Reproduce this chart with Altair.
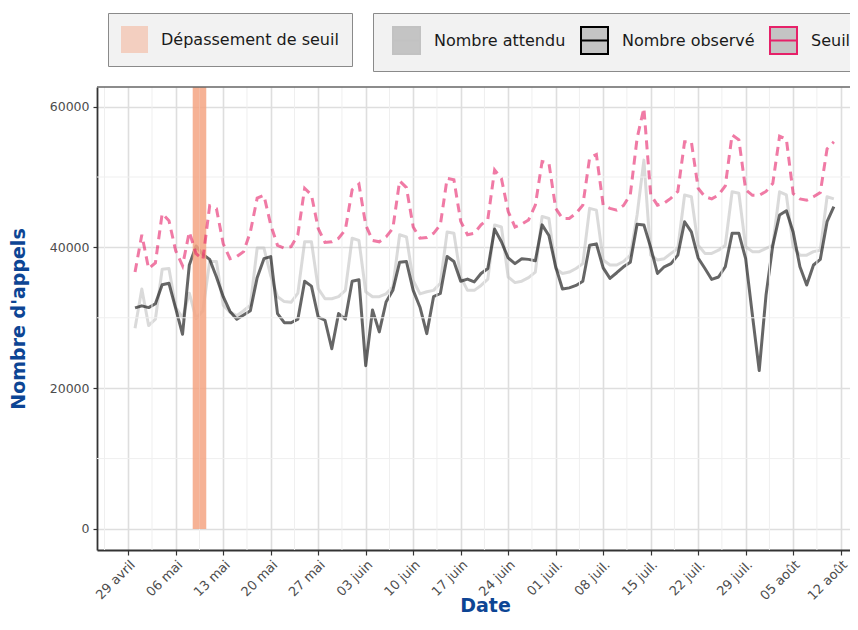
import json
import altair as alt
import pandas as pd

# ---------------- data ----------------
start_date = "2024-04-30"
n_days = 104

observed = [
    31400, 31700, 31450, 32000, 34700, 34900, 31300, 27650, 37500, 40200,
    39000, 38300, 35800, 33000, 30900, 29800, 30400, 31000, 35700, 38400,
    38700, 30600, 29300, 29300, 29800, 35200, 34500, 30100, 29650, 25600,
    30600, 29800, 35200, 35400, 23200, 31100, 28000, 32250, 33900, 37900,
    38000, 33900, 31500, 27750, 33000, 33450, 38700, 38000, 35200, 35500,
    35100, 36300, 37000, 42600, 40800, 38500, 37700, 38400, 38300, 38100,
    43200, 41700, 37250, 34100, 34250, 34600, 35200, 40300, 40500, 37100,
    35600, 36400, 37250, 37900, 43300, 43200, 40000, 36300, 37250, 37700,
    38900, 43650, 42200, 38500, 37000, 35450, 35800, 37250, 42000, 42000,
    38400, 30350, 22500, 33200, 40300, 44600, 45200, 42200, 37250, 34650,
    37500, 38300, 43650, 45800,
]
expected = [
    28500, 34100, 28900, 29800, 36900, 37000, 31500, 30000, 33500, 29900,
    31000, 38000, 38000, 31800, 30800, 30300, 31000, 31800, 39900, 39900,
    36000, 33000, 32300, 32200, 33500, 40800, 40800, 34150, 32700, 32700,
    33000, 33900, 41300, 41000, 33700, 33000, 33000, 33400, 34400, 41800,
    41500, 35300, 33400, 33700, 33900, 34900, 42200, 42000, 35800, 33900,
    33900, 34600, 35500, 43200, 42900, 35800, 35000, 35200, 35700, 36500,
    44400, 44100, 37000, 36300, 36500, 37000, 37700, 45550, 45300, 38200,
    37500, 37500, 38000, 38900, 44600, 52400, 38900, 38200, 38400, 39150,
    39850, 47450, 47200, 40300, 39150, 39150, 39600, 40300, 47900, 47700,
    40100, 39400, 39400, 39850, 40300, 47900, 47450, 40100, 38900, 38900,
    39400, 39600, 47200, 46900,
]
threshold = [
    36500, 41800, 37000, 37800, 44800, 43800, 39500, 37400, 42200, 39100,
    38300, 45900, 45500, 40500, 38400, 38700, 39400, 42200, 47000, 47400,
    43200, 40300, 39900, 40100, 41800, 48400, 47450, 42700, 40700, 40800,
    41300, 42500, 48200, 49000, 43200, 41000, 40800, 41500, 42700, 49450,
    48500, 42900, 41300, 41400, 42000, 43200, 49800, 49600, 43700, 41800,
    42000, 43200, 44000, 51000, 49800, 45100, 42900, 43300, 43900, 46000,
    52200, 52000, 45550, 44100, 44100, 44850, 46000, 52700, 53200, 46000,
    45550, 45300, 45950, 47500, 55500, 59800, 47500, 46000, 46300, 47000,
    47950, 55000, 55000, 48400, 47200, 46900, 47450, 48750, 56000, 55300,
    48200, 47400, 47400, 47950, 49100, 55800, 55400, 47650, 46900, 46700,
    47200, 47800, 54000, 55000,
]
exceed_dates = ["2024-05-09", "2024-05-10"]

tick_dates = ["2024-04-29", "2024-05-06", "2024-05-13", "2024-05-20", "2024-05-27",
              "2024-06-03", "2024-06-10", "2024-06-17", "2024-06-24", "2024-07-01",
              "2024-07-08", "2024-07-15", "2024-07-22", "2024-07-29", "2024-08-05",
              "2024-08-12"]
tick_labels = ["29 avril", "06 mai", "13 mai", "20 mai", "27 mai", "03 juin", "10 juin",
               "17 juin", "24 juin", "01 juil.", "08 juil.", "15 juil.", "22 juil.",
               "29 juil.", "05 août", "12 août"]
series_names = ["Nombre attendu", "Nombre observé", "Seuil"]
series_colors = ["#c2c2c2", "#000000", "#e62169"]
band_label = "Dépassement de seuil"
y_major = [0, 20000, 40000, 60000]
y_minor = [10000, 30000, 50000]

assert len(observed) == len(expected) == len(threshold) == n_days

# ---------------- tables ----------------
dates = pd.date_range(start_date, periods=n_days, freq="D").strftime("%Y-%m-%d")
df = pd.concat([
    pd.DataFrame({"date": dates, "value": vals, "serie": name})
    for name, vals in zip(series_names, [expected, observed, threshold])
])
df_solid = df[df["serie"] != "Seuil"]
df_dash = df[df["serie"] == "Seuil"]

day_ms = 86400000
def ms(s):
    return int(pd.Timestamp(s, tz="UTC").value // 10**6)

band_df = pd.DataFrame({
    "date": [ms(d) - day_ms // 2 for d in exceed_dates],
    "date2": [ms(d) + day_ms // 2 for d in exceed_dates],
    "lab": band_label,
})
tick_ms = [ms(d) for d in tick_dates]
minor_ms = [t - int(3.5 * day_ms) for t in tick_ms]
minor_x = pd.DataFrame({"date": minor_ms})
minor_y = pd.DataFrame({"value": y_minor})

x_domain = [tick_ms[0] - int(4.606 * day_ms), tick_ms[0] + int(106.38 * day_ms)]
y_domain = [-2990, 62790]

W, H = 753, 463
FONT = "DejaVu Sans"
TITLE_COLOR = "#0d4594"

xscale = alt.Scale(type="utc", domain=x_domain, nice=False)
yscale = alt.Scale(domain=y_domain, nice=False, zero=False)

label_expr = "{}[indexof({}, time(datum.value))]".format(json.dumps(tick_labels), json.dumps(tick_ms))
xaxis = alt.Axis(values=tick_ms, labelExpr=label_expr, labelAngle=-45, labelAlign="right",
                 labelBaseline="top", labelOverlap=False, labelFlush=False,
                 labelFontSize=13, labelColor="#4d4d4d", labelFont=FONT, labelPadding=3,
                 grid=True, gridColor="#dedede", gridWidth=1.6,
                 domainColor="#333333", domainWidth=1.8, tickColor="#333333", tickSize=5,
                 tickWidth=1.2, title="Date", titleFont=FONT, titleFontSize=19,
                 titleFontWeight="bold", titleColor=TITLE_COLOR, titleX=388, titleY=61,
                 titleAlign="center", titleBaseline="alphabetic")
yaxis = alt.Axis(values=y_major, format="d", labelFontSize=12.5, labelColor="#4d4d4d",
                 labelFont=FONT, labelPadding=4, grid=True, gridColor="#dedede",
                 gridWidth=1.6, domainColor="#333333", domainWidth=1.8,
                 tickColor="#333333", tickSize=4, tickWidth=1.2,
                 title="Nombre d'appels", titleFont=FONT, titleFontSize=19,
                 titleFontWeight="bold", titleColor=TITLE_COLOR, titleX=-79,
                 titleY=H / 2, titleAlign="center", titleBaseline="middle", titleAngle=270)

legend_common = dict(orient="none", legendY=-74, direction="horizontal",
                     labelFontSize=16, labelFont=FONT, labelColor="#1a1a1a",
                     labelOffset=13, labelLimit=300, columnPadding=11, padding=13,
                     fillColor="#f2f2f2", strokeColor="#8a8a8a", symbolSize=729)

color_scale = alt.Scale(domain=series_names, range=series_colors)
KEY_PATH = "M-1,-1H1V1H-1Z M-1,0H1"
series_legend = alt.Legend(legendX=276, title=" ", titleOrient="left", titleFontSize=18,
                           titlePadding=6, symbolType=KEY_PATH,
                           symbolFillColor="#c4c4c4", symbolStrokeWidth=2,
                           symbolOpacity=1, symbolDash=[10, 0], **legend_common)

solid = alt.Chart(df_solid).mark_line(strokeWidth=3, opacity=0.6, strokeJoin="round").encode(
    x=alt.X("date:T", scale=xscale, axis=xaxis, title="Date"),
    y=alt.Y("value:Q", scale=yscale, axis=yaxis, title="Nombre d'appels"),
    color=alt.Color("serie:N", scale=color_scale, legend=series_legend),
)
dashed = alt.Chart(df_dash).mark_line(strokeWidth=3, opacity=0.6, strokeDash=[9, 6]).encode(
    x=alt.X("date:T", scale=xscale, title="Date"),
    y=alt.Y("value:Q", scale=yscale, title="Nombre d'appels"),
    color=alt.Color("serie:N", scale=color_scale, legend=series_legend),
)

minor_v = alt.Chart(minor_x).mark_rule(color="#efefef", strokeWidth=1).encode(
    x=alt.X("date:T", scale=xscale, title="Date"))
minor_h = alt.Chart(minor_y).mark_rule(color="#efefef", strokeWidth=1).encode(
    y=alt.Y("value:Q", scale=yscale, title="Nombre d'appels"))

band = alt.Chart(band_df).mark_rect(opacity=0.85).encode(
    x=alt.X("date:T", scale=xscale, title="Date"),
    x2="date2:T",
    y=alt.Y(datum=0, scale=yscale, title="Nombre d'appels"),
    y2=alt.value(0),
    fill=alt.Fill("lab:N", title=None,
                  scale=alt.Scale(domain=[band_label], range=["#f4a582"]),
                  legend=alt.Legend(legendX=11, symbolType="square", symbolOpacity=0.45,
                                    symbolStrokeWidth=0, **legend_common)),
)

top_border = alt.Chart(pd.DataFrame({"k": [0]})).mark_rule(color="#666666", strokeWidth=1.5).encode(
    x=alt.value(0), x2=alt.value(W), y=alt.value(0))

chart = alt.layer(solid, minor_v, minor_h, band, dashed, top_border).properties(
    width=W, height=H,
    padding={"left": 89, "top": 79, "right": 0, "bottom": 66},
    autosize=alt.AutoSizeParams(type="none"),
).configure_view(stroke="transparent")

chart.save("out.html", embed_options={"renderer": "svg", "actions": False})
